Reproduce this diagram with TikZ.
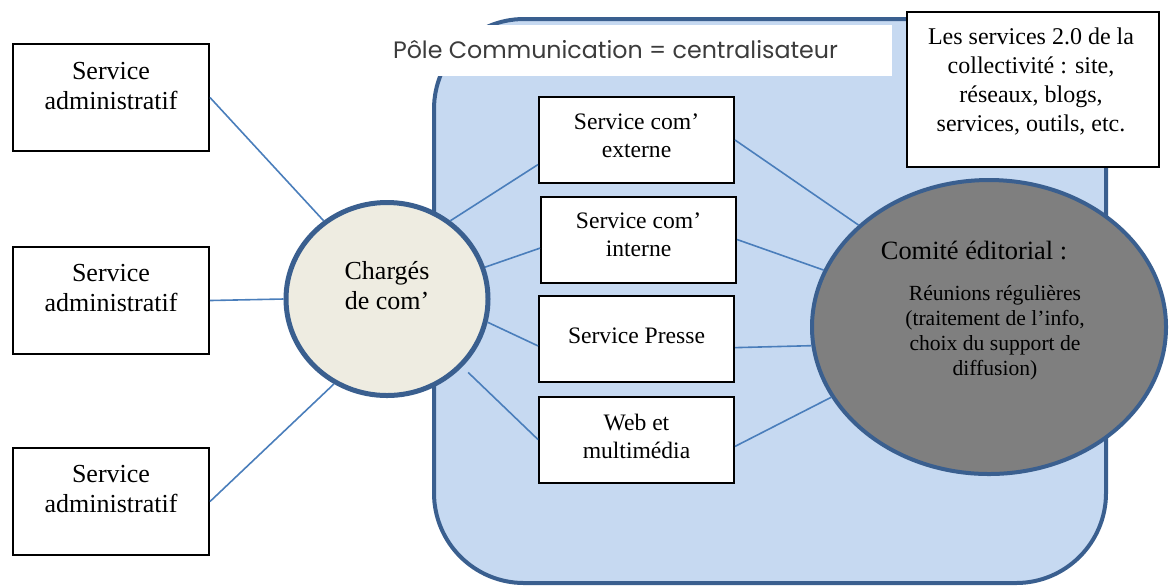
\documentclass[tikz,border=0pt]{standalone}
\usepackage{fontspec}
\setmainfont{Liberation Serif}
\newfontfamily\titlefont{Poppins}
\usetikzlibrary{shapes.geometric,calc}
\definecolor{poleblue}{HTML}{C6D9F1}
\definecolor{edgeblue}{HTML}{3A5F8F}
\definecolor{linkblue}{HTML}{4A7EBB}
\definecolor{creme}{HTML}{EEECE1}
\definecolor{greyfill}{HTML}{7F7F7F}
\definecolor{titlegrey}{HTML}{3C3C3C}
\tikzset{
  svcbox/.style={draw=black, line width=1pt, fill=white, minimum width=98pt, minimum height=53.5pt, inner sep=0pt},
  midbox/.style={draw=black, line width=1pt, fill=white, minimum width=97.5pt, minimum height=43pt, inner sep=0pt},
  bigtxt/.style={align=center, font=\fontsize{13pt}{15pt}\selectfont, inner sep=0pt},
  midtxt/.style={align=center, font=\fontsize{11.8pt}{14pt}\selectfont, inner sep=0pt},
  conn/.style={draw=linkblue, line width=0.8pt},
}
\begin{document}
\begin{tikzpicture}[x=0.5pt,y=-0.5pt]
\useasboundingbox (0,0) rectangle (1170,586);
\clip (0,0) rectangle (1170,586);
% pole communication area
\draw[fill=poleblue, draw=edgeblue, line width=2pt, rounded corners=45pt] (434,19) rectangle (1106,583);
% title
\node[fill=white, minimum width=253.5pt, minimum height=25.5pt, inner sep=0pt] (tbox) at (638.5,50.5) {};
\node[inner sep=0pt, text=titlegrey] (ttl) at (615.5,50) {\resizebox{222.5pt}{!}{\titlefont Pôle Communication = centralisateur}};
% left boxes
\node[svcbox] (a1) at (111,97.5) {};
\node[bigtxt] (a1t) at (111,86) {Service\\administratif};
\node[svcbox] (a2) at (111,300.5) {};
\node[bigtxt] (a2t) at (111,288) {Service\\administratif};
\node[svcbox] (a3) at (111,501.5) {};
\node[bigtxt] (a3t) at (111,488.5) {Service\\administratif};
% central circle
\node[ellipse, draw=edgeblue, fill=creme, line width=2.5pt, minimum width=101pt, minimum height=96.5pt, inner sep=0pt] (ch) at (387,299) {};
\node[bigtxt] (cht) at (387,286) {Chargés\\de com’};
% middle boxes
\node[midbox] (m1) at (636.5,140) {};
\node[midtxt] (m1t) at (636.5,136) {Service com’\\externe};
\node[midbox] (m2) at (638.5,239.5) {};
\node[midtxt] (m2t) at (638.5,234.5) {Service com’\\interne};
\node[midbox] (m3) at (636.5,339) {};
\node[midtxt] (m3t) at (636.5,336) {Service Presse};
\node[midbox] (m4) at (636.5,439.5) {};
\node[midtxt] (m4t) at (636.5,436) {Web et\\multimédia};
% editorial committee
\node[ellipse, draw=edgeblue, fill=greyfill, line width=2pt, minimum width=177pt, minimum height=147pt, inner sep=0pt] (ce) at (989,327) {};
\node[inner sep=0pt, font=\fontsize{13.2pt}{15pt}\selectfont] (cet) at (974,250) {Comité éditorial :};
\node[align=center, inner sep=0pt, font=\fontsize{10.8pt}{12.5pt}\selectfont] (ced) at (995,333) {Réunions régulières\\(traitement de l’info,\\choix du support de\\diffusion)};
% top right box
\node[draw=black, line width=1pt, fill=white, minimum width=126pt, minimum height=77.5pt, inner sep=0pt] (tr) at (1033,89.5) {};
\node[align=center, inner sep=0pt, font=\fontsize{12pt}{14.5pt}\selectfont] (trt) at (1031,82) {Les services 2.0 de la\\collectivité : site,\\réseaux, blogs,\\services, outils, etc.};
% connectors
\draw[conn] (a1.east) -- (ch.129);
\draw[conn] (a2.east) -- (ch.west);
\draw[conn] (a3.east) -- (ch.238);
\draw[conn] (ch.51) -- (m1.194);
\draw[conn] (ch.18) -- (m2.185);
\draw[conn] (ch.347) -- (m3.184);
\draw[conn, shorten <=4pt] (ch.318) -- (m4.west);
\draw[conn] (m1.east) -- (ce.142.5);
\draw[conn] (m2.east) -- (ce.161);
\draw[conn] (m3.355) -- (ce.186);
\draw[conn] (m4.356) -- (ce.204);
\end{tikzpicture}
\end{document}
